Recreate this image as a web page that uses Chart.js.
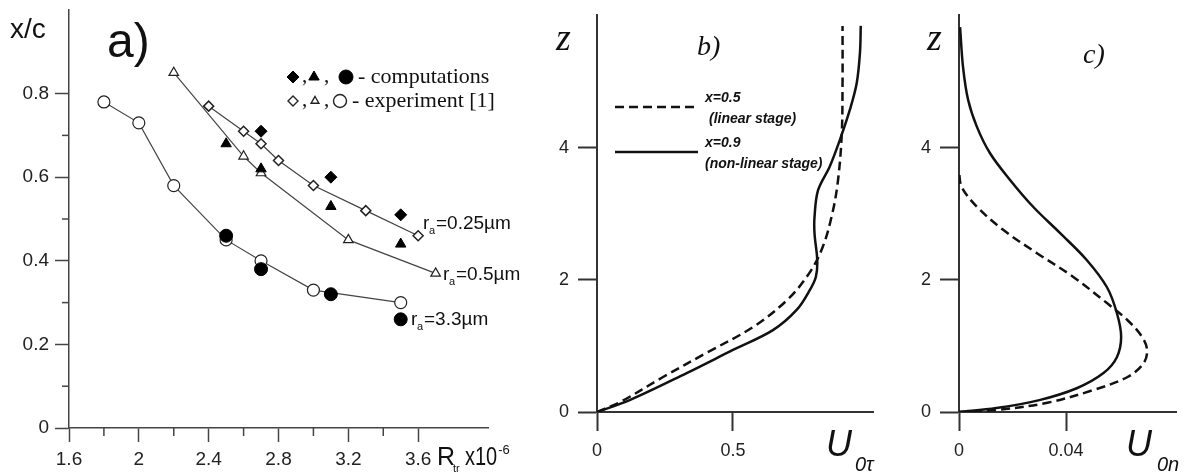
<!DOCTYPE html>
<html>
<head>
<meta charset="utf-8">
<script src="https://cdn.jsdelivr.net/npm/chart.js@4.4.1/dist/chart.umd.min.js"></script>
<style>
  body { margin: 0; background: #fff; }
  #wrap { position: relative; width: 1187px; height: 472px; }
  canvas { position: absolute; left: 0; top: 0; }
</style>
</head>
<body>
<div id="wrap">
  <canvas id="chartA" width="1187" height="472"></canvas>
  <canvas id="chartB" width="1187" height="472"></canvas>
  <canvas id="chartC" width="1187" height="472"></canvas>
</div>
<script>
// ---- panel a): x/c vs R_tr x10^-6 ----
const aXTicks = [1.6, 2, 2.4, 2.8, 3.2, 3.6];
const aXMinor = [1.8, 2.2, 2.6, 3.0, 3.4];
const aYTicks = [0, 0.2, 0.4, 0.6, 0.8];
const aYMinor = [0.1, 0.3, 0.5, 0.7];

// r_a = 0.25 um
const exp025R = [2.4, 2.6, 2.7, 2.8, 3.0, 3.3, 3.6];
const exp025xc = [0.77, 0.71, 0.68, 0.64, 0.58, 0.52, 0.46];
const comp025R = [2.7, 3.1, 3.5];
const comp025xc = [0.71, 0.60, 0.51];
// r_a = 0.5 um
const exp05R = [2.2, 2.6, 2.7, 3.2, 3.7];
const exp05xc = [0.85, 0.65, 0.61, 0.45, 0.37];
const comp05R = [2.5, 2.7, 3.1, 3.5];
const comp05xc = [0.68, 0.62, 0.53, 0.44];
// r_a = 3.3 um
const exp33R = [1.8, 2.0, 2.2, 2.5, 2.7, 3.0, 3.5];
const exp33xc = [0.78, 0.73, 0.58, 0.45, 0.40, 0.33, 0.30];
const comp33R = [2.5, 2.7, 3.1, 3.5];
const comp33xc = [0.46, 0.38, 0.32, 0.26];

// ---- panel b): U_0tau profiles ----
const bXTicks = [0, 0.5];
const bZTicks = [0, 2, 4];
const bZ05 = [0, 0.15, 0.53, 0.89, 1.29, 1.70, 2.1, 2.5, 3.0, 3.5, 4.2, 5.0, 5.85];
const bU05 = [0, 0.085, 0.243, 0.40, 0.575, 0.70, 0.78, 0.83, 0.865, 0.886, 0.90, 0.903, 0.903];
const bZ09 = [0, 0.18, 0.59, 0.94, 1.24, 1.55, 1.85, 2.05, 2.3, 2.7, 2.96, 3.36, 3.72, 4.12, 4.58, 4.98, 5.44, 5.85];
const bU09 = [0, 0.12, 0.33, 0.50, 0.647, 0.735, 0.783, 0.805, 0.81, 0.80, 0.80, 0.813, 0.856, 0.893, 0.93, 0.955, 0.967, 0.97];

// ---- panel c): U_0n profiles ----
const cXTicks = [0, 0.04];
const cZTicks = [0, 2, 4];
const cZ05 = [0, 0.03, 0.14, 0.33, 0.53, 0.74, 0.94, 1.14, 1.39, 1.65, 2.05, 2.41, 2.76, 3.11, 3.41, 3.64];
const cU05 = [0, 0.014, 0.033, 0.050, 0.063, 0.069, 0.0703, 0.0684, 0.063, 0.0553, 0.0426, 0.029, 0.0165, 0.0067, 0.001, 0];
const cZ09 = [0, 0.06, 0.18, 0.36, 0.59, 0.83, 1.14, 1.5, 1.89, 2.30, 2.71, 3.11, 3.52, 3.92, 4.32, 4.73, 5.23, 5.83];
const cU09 = [0, 0.014, 0.030, 0.044, 0.054, 0.059, 0.0606, 0.059, 0.0553, 0.0478, 0.0378, 0.0277, 0.019, 0.0116, 0.0067, 0.0034, 0.0015, 0.0004];

const SANS = '"Liberation Sans", Arial, sans-serif';
const SERIF = '"Liberation Serif", "Times New Roman", serif';

const pts = (xs, ys) => xs.map((x, i) => ({ x: x, y: ys[i] }));
const fmt = v => String(+Number(v).toFixed(3));

// draws text, returns x after it
function txt(ctx, s, x, y, font, align) {
    ctx.font = font;
    ctx.textAlign = align || 'left';
    ctx.textBaseline = 'alphabetic';
    ctx.fillStyle = '#111';
    ctx.fillText(s, x, y);
    return x + ctx.measureText(s).width;
}

// axis builder, ticks come from the tick arrays
function axis(min, max, ticks, size, isX, opts) {
    return {
        type: 'linear', min: min, max: max,
        afterFit: s => {
            if (isX) s.height = size; else s.width = size;
            // keep the plot box exactly where the layout padding puts it
            s.paddingTop = s.paddingBottom = s.paddingLeft = s.paddingRight = 0;
        },
        afterBuildTicks: s => { s.ticks = ticks.map(v => ({ value: v })); },
        ticks: {
            callback: v => fmt(v), color: '#222', autoSkip: false, maxRotation: 0,
            font: { family: SANS, size: opts.font }, padding: opts.pad
        },
        grid: { drawOnChartArea: false, drawTicks: true, tickLength: opts.tick, tickColor: opts.color, tickWidth: opts.width },
        border: { display: true, color: opts.color, width: opts.width }
    };
}

// minor ticks for panel a
const minorTicks = {
    id: 'minorTicks',
    afterDraw(chart) {
        const { ctx, scales: { x, y } } = chart;
        ctx.save();
        ctx.strokeStyle = '#444';
        ctx.lineWidth = 1.5;
        aXMinor.forEach(v => {
            const px = x.getPixelForValue(v);
            ctx.beginPath(); ctx.moveTo(px, x.top); ctx.lineTo(px, x.top + 8); ctx.stroke();
        });
        aYMinor.forEach(v => {
            const py = y.getPixelForValue(v);
            ctx.beginPath(); ctx.moveTo(y.right, py); ctx.lineTo(y.right - 7, py); ctx.stroke();
        });
        ctx.restore();
    }
};

function mark(ctx, style, r, x, y, filled) {
    ctx.save();
    ctx.fillStyle = filled ? '#000' : '#fff';
    ctx.strokeStyle = filled ? '#000' : '#222';
    ctx.lineWidth = filled ? 1 : 1.4;
    Chart.helpers.drawPoint(ctx, { pointStyle: style, radius: r, rotation: 0, borderWidth: ctx.lineWidth }, x, y);
    ctx.restore();
}

const textsA = {
    id: 'textsA',
    afterDraw(chart) {
        const ctx = chart.ctx;
        ctx.save();
        txt(ctx, 'x/c', 10, 38, '28px ' + SANS);
        txt(ctx, 'a)', 107, 57, '48px ' + SANS);
        // legend
        mark(ctx, 'rectRot', 6, 293, 77, true);
        txt(ctx, ',', 302, 82, '21px ' + SERIF);
        mark(ctx, 'triangle', 6, 314, 77, true);
        txt(ctx, ',', 324, 82, '21px ' + SERIF);
        mark(ctx, 'circle', 7, 346, 77, true);
        txt(ctx, '- computations', 358, 83, '22px ' + SERIF);
        mark(ctx, 'rectRot', 5, 293, 101, false);
        txt(ctx, ',', 302, 106, '21px ' + SERIF);
        mark(ctx, 'triangle', 4.5, 315, 101, false);
        txt(ctx, ',', 324, 106, '21px ' + SERIF);
        mark(ctx, 'circle', 6.5, 340, 101, false);
        txt(ctx, '- experiment [1]', 352, 107, '22px ' + SERIF);
        // curve labels
        const ra = (x, y, val) => {
            txt(ctx, 'r', x, y, '19px ' + SANS);
            txt(ctx, 'a', x + 6, y + 5, '11px ' + SANS);
            txt(ctx, '=' + val + '\u00b5m', x + 13, y, '19px ' + SANS);
        };
        ra(423, 229, '0.25');
        ra(443, 280, '0.5');
        ra(411, 325, '3.3');
        // axis title R_tr x10^-6
        let x = txt(ctx, 'R', 437, 465, '25px ' + SANS);
        txt(ctx, 'tr', x - 2, 472, '11px ' + SANS);
        ctx.save();
        ctx.translate(465, 465);
        ctx.scale(0.8, 1);
        x = txt(ctx, 'x10', 0, 0, '25px ' + SANS);
        ctx.restore();
        txt(ctx, '-6', 465 + x * 0.8 + 1, 454, '13px ' + SANS);
        ctx.restore();
    }
};

const axA = { font: 19, pad: 6, tick: 14, color: '#444', width: 1.5 };

new Chart(document.getElementById('chartA'), {
    type: 'scatter',
    data: {
        datasets: [
            { data: pts(comp025R, comp025xc), pointStyle: 'rectRot', pointRadius: 6, pointBackgroundColor: '#000', pointBorderColor: '#000', pointBorderWidth: 1, showLine: false },
            { data: pts(comp05R, comp05xc), pointStyle: 'triangle', pointRadius: 6, pointBackgroundColor: '#000', pointBorderColor: '#000', pointBorderWidth: 1, showLine: false },
            { data: pts(comp33R, comp33xc), pointStyle: 'circle', pointRadius: 6.5, pointBackgroundColor: '#000', pointBorderColor: '#000', pointBorderWidth: 1, showLine: false },
            { data: pts(exp025R, exp025xc), pointStyle: 'rectRot', pointRadius: 5, pointBackgroundColor: '#fff', pointBorderColor: '#222', pointBorderWidth: 1.5, showLine: true, borderColor: '#444', borderWidth: 1.2, tension: 0 },
            { data: pts(exp05R, exp05xc), pointStyle: 'triangle', pointRadius: 5.5, pointBackgroundColor: '#fff', pointBorderColor: '#222', pointBorderWidth: 1.2, showLine: true, borderColor: '#444', borderWidth: 1.2, tension: 0 },
            { data: pts(exp33R, exp33xc), pointStyle: 'circle', pointRadius: 6, pointBackgroundColor: '#fff', pointBorderColor: '#222', pointBorderWidth: 1.2, showLine: true, borderColor: '#444', borderWidth: 1.2, tension: 0 }
        ]
    },
    options: {
        responsive: false, animation: false,
        layout: { padding: { left: 0, top: 10, right: 699, bottom: 0 } },
        plugins: { legend: { display: false }, tooltip: { enabled: false } },
        scales: {
            x: axis(1.6, 4.0, aXTicks, 44, true, axA),
            y: axis(0, 1.0, aYTicks, 69, false, axA)
        }
    },
    plugins: [minorTicks, textsA]
});

// ---- profile panels b) and c) ----
function legendB(ctx) {
    ctx.save();
    ctx.strokeStyle = '#111';
    ctx.lineWidth = 2.5;
    ctx.setLineDash([9, 5]);
    ctx.beginPath(); ctx.moveTo(615, 107); ctx.lineTo(698, 107); ctx.stroke();
    ctx.setLineDash([]);
    ctx.beginPath(); ctx.moveTo(615, 152); ctx.lineTo(698, 152); ctx.stroke();
    const f = 'italic bold 14px ' + SANS;
    txt(ctx, 'x=0.5', 705, 102, f);
    txt(ctx, '(linear stage)', 709, 123, f);
    txt(ctx, 'x=0.9', 705, 147, f);
    txt(ctx, '(non-linear stage)', 705, 168, f);
    ctx.restore();
}

function profileChart(id, xMax, xTicks, zTicks, z05, u05, z09, u09, left, right, extra) {
    const ax = { font: 18, pad: 9, tick: 19, color: '#333', width: 2 };
    return new Chart(document.getElementById(id), {
        type: 'scatter',
        data: {
            datasets: [
                { data: pts(u05, z05), showLine: true, borderColor: '#111', borderWidth: 2.5, borderDash: [9, 5], pointRadius: 0, tension: 0.35 },
                { data: pts(u09, z09), showLine: true, borderColor: '#111', borderWidth: 2.5, pointRadius: 0, tension: 0.35 }
            ]
        },
        options: {
            responsive: false, animation: false,
            layout: { padding: { left: 0, top: 15, right: right, bottom: 0 } },
            plugins: { legend: { display: false }, tooltip: { enabled: false } },
            scales: {
                x: axis(0, xMax, xTicks, 60, true, ax),
                y: axis(0, 6.015, zTicks, left, false, ax)
            }
        },
        plugins: [{ id: 'texts_' + id, afterDraw(chart) { extra(chart.ctx); } }]
    });
}

profileChart('chartB', 1.015, bXTicks, bZTicks, bZ05, bU05, bZ09, bU09, 597, 314, ctx => {
    ctx.save();
    txt(ctx, 'z', 556, 50, 'italic 38px ' + SERIF);
    txt(ctx, 'b)', 697, 55, 'italic 28px ' + SERIF);
    txt(ctx, 'U', 826, 456, 'italic 36px ' + SANS);
    txt(ctx, '0\u03c4', 855, 471, 'italic 20px ' + SANS);
    ctx.restore();
    legendB(ctx);
});

profileChart('chartC', 0.0811, cXTicks, cZTicks, cZ05, cU05, cZ09, cU09, 959, 11, ctx => {
    ctx.save();
    txt(ctx, 'z', 927, 50, 'italic 38px ' + SERIF);
    txt(ctx, 'c)', 1083, 63, 'italic 28px ' + SERIF);
    txt(ctx, 'U', 1126, 456, 'italic 36px ' + SANS);
    txt(ctx, '0n', 1157, 471, 'italic 20px ' + SANS);
    ctx.restore();
});
</script>
</body>
</html>
